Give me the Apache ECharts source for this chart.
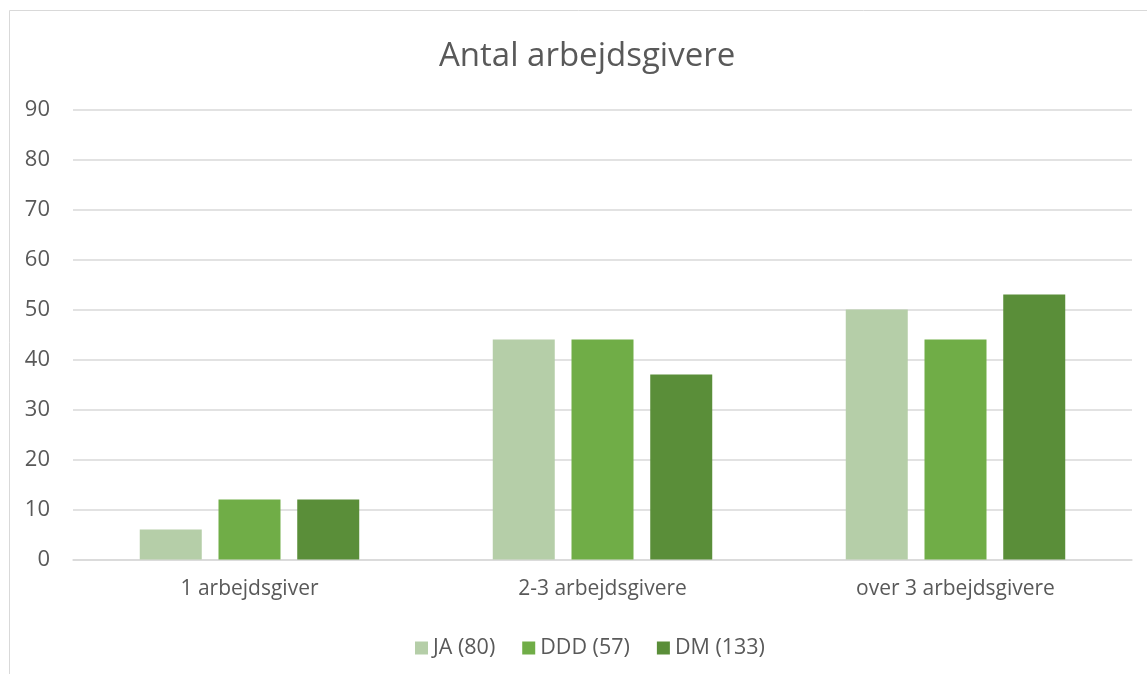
<!DOCTYPE html>
<html>
<head>
<meta charset="utf-8">
<script src="https://cdn.jsdelivr.net/npm/echarts@6/dist/echarts.min.js"></script>
<style>
  html, body { margin: 0; padding: 0; background: #fff; }
  #main { width: 1147px; height: 674px; }
</style>
</head>
<body>
<div id="main"></div>
<script>
// data
var categories = ['1 arbejdsgiver', '2-3 arbejdsgivere', 'over 3 arbejdsgivere'];
var seriesNames = ['JA (80)', 'DDD (57)', 'DM (133)'];
var jaValues = [6, 44, 50];
var dddValues = [12, 44, 44];
var dmValues = [12, 37, 53];
var colors = ['#b5cea8', '#70ad47', '#5a8e39'];

var font = 'Open Sans';
var chart = echarts.init(document.getElementById('main'));

function bar(name, data, i) {
  return {
    name: name,
    type: 'bar',
    data: data,
    barWidth: 62,
    barGap: '27%',
    itemStyle: { color: colors[i] }
  };
}

chart.setOption({
  animation: false,
  textStyle: { fontFamily: font },
  title: {
    text: 'Antal arbejdsgivere',
    left: 434,
    top: 35,
    textStyle: { fontSize: 33, fontWeight: 'normal', color: '#595959', fontFamily: font }
  },
  graphic: [{
    type: 'rect',
    shape: { x: 9.5, y: 10.5, width: 1200, height: 700 },
    style: { fill: 'none', stroke: '#d9d9d9', lineWidth: 1 }
  }],
  legend: {
    data: seriesNames,
    top: 632,
    left: 410,
    itemWidth: 13,
    itemHeight: 13,
    itemGap: 27,
    icon: 'rect',
    textStyle: { fontSize: 21.5, color: '#595959', fontFamily: font }
  },
  grid: { left: 73, right: 15, top: 109.5, bottom: 114.5, containLabel: false },
  xAxis: {
    type: 'category',
    data: categories,
    axisLine: { lineStyle: { color: '#d9d9d9', width: 1.5 } },
    axisTick: { show: false },
    axisLabel: { color: '#595959', fontSize: 21, margin: 19, fontFamily: font }
  },
  yAxis: {
    type: 'value',
    min: 0,
    max: 90,
    interval: 10,
    axisLine: { show: false },
    axisTick: { show: false },
    splitLine: { lineStyle: { color: '#d9d9d9', width: 1.5 } },
    axisLabel: { color: '#595959', fontSize: 22, margin: 23, fontFamily: font }
  },
  series: [
    bar(seriesNames[0], jaValues, 0),
    bar(seriesNames[1], dddValues, 1),
    bar(seriesNames[2], dmValues, 2)
  ]
});
</script>
</body>
</html>
